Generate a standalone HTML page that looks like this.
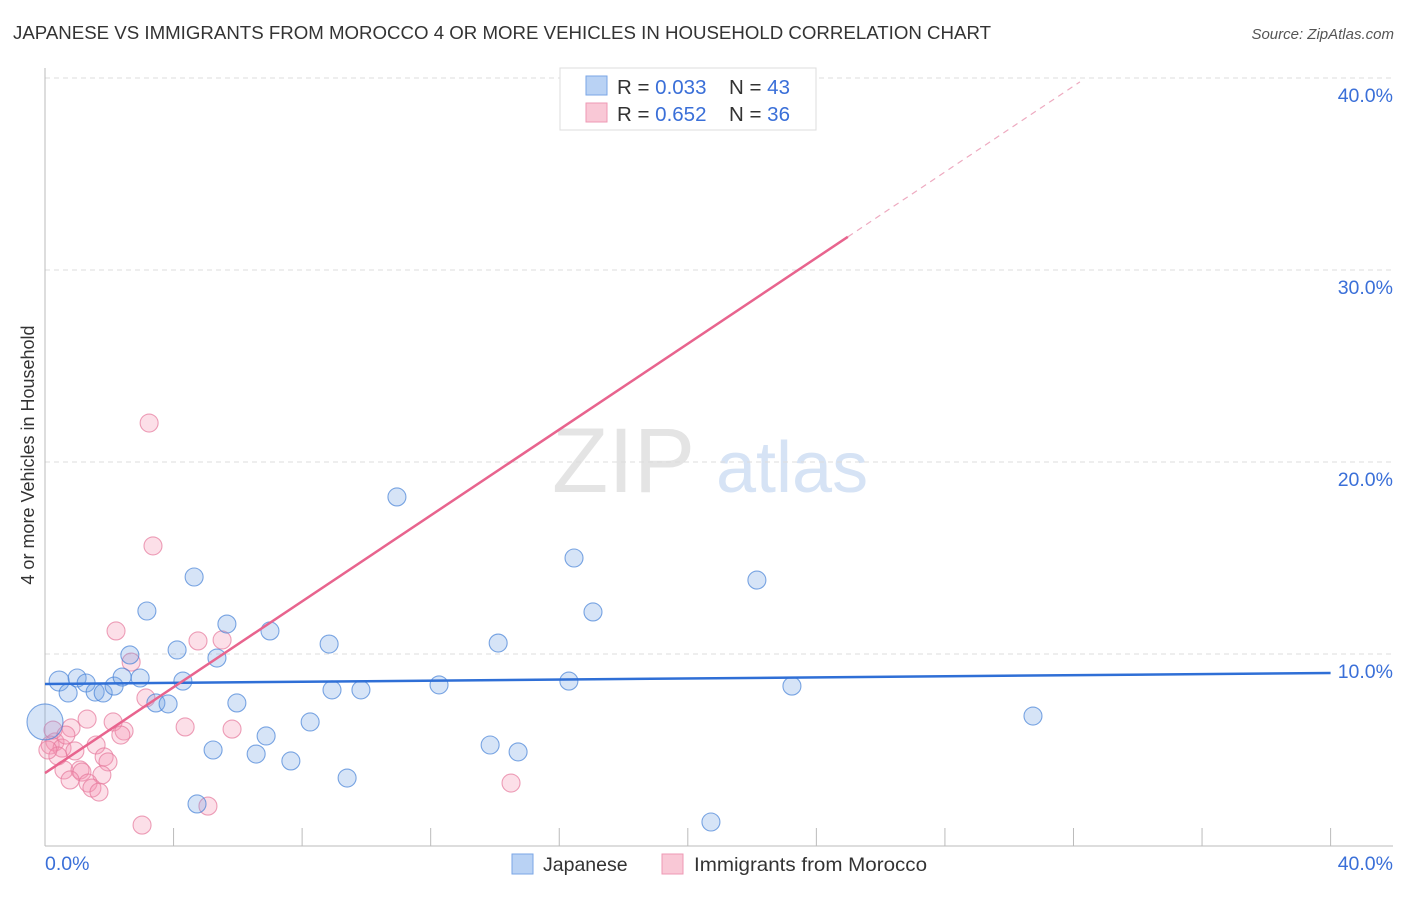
<!DOCTYPE html>
<html><head><meta charset="utf-8"><style>
body{margin:0;background:#fff;font-family:"Liberation Sans",sans-serif;}
svg text{font-family:"Liberation Sans",sans-serif;}
</style></head><body>
<svg id="chart" width="1406" height="892" viewBox="0 0 1406 892" xmlns="http://www.w3.org/2000/svg">
<text x="13" y="39" font-size="18" fill="#333" textLength="978" lengthAdjust="spacingAndGlyphs">JAPANESE VS IMMIGRANTS FROM MOROCCO 4 OR MORE VEHICLES IN HOUSEHOLD CORRELATION CHART</text>
<text x="1394" y="39" font-size="15" fill="#555" font-style="italic" text-anchor="end">Source: ZipAtlas.com</text>
<g>
<text x="552" y="492" font-size="92" fill="#e4e4e4" font-family="Liberation Serif, serif">ZIP</text>
<text x="716" y="492" font-size="72" fill="#d6e3f5">atlas</text>
</g>
<g id="grid"></g>
<g id="axes"></g>
<g id="points"></g>
<g id="lines"></g>
<text transform="translate(34,455) rotate(-90)" font-size="18" fill="#333" text-anchor="middle">4 or more Vehicles in Household</text>
<g>
<rect x="560" y="68" width="256" height="62" fill="#fff" stroke="#ddd"/>
<rect x="586" y="76" width="21" height="19" fill="#b9d2f4" stroke="#7aa6e6"/>
<text x="617" y="94" font-size="20.5" fill="#333">R = <tspan fill="#3a6fd8">0.033</tspan></text>
<text x="729" y="94" font-size="20.5" fill="#333">N = <tspan fill="#3a6fd8">43</tspan></text>
<rect x="586" y="103" width="21" height="19" fill="#f9c8d6" stroke="#ee99b4"/>
<text x="617" y="121" font-size="20.5" fill="#333">R = <tspan fill="#3a6fd8">0.652</tspan></text>
<text x="729" y="121" font-size="20.5" fill="#333">N = <tspan fill="#3a6fd8">36</tspan></text>
</g>
<g>
<rect x="512" y="854" width="21" height="20" fill="#b9d2f4" stroke="#7aa6e6"/>
<text x="543" y="871" font-size="19.5" fill="#333">Japanese</text>
<rect x="662" y="854" width="21" height="20" fill="#f9c8d6" stroke="#ee99b4"/>
<text x="694" y="871" font-size="19.5" fill="#333" textLength="233" lengthAdjust="spacingAndGlyphs">Immigrants from Morocco</text>
</g>
</svg>
<script>
const japX=[0.44,0.72,1.0,1.28,1.56,1.81,2.15,2.40,2.64,2.96,3.17,3.45,3.83,4.11,4.29,4.64,4.73,5.23,5.35,5.66,5.97,6.57,6.88,7.0,7.65,8.25,8.84,8.93,9.4,9.83,10.95,12.26,13.85,14.1,14.72,16.3,16.46,17.05,20.72,22.15,23.24,30.74,0];
const japY=[8.59,7.97,8.75,8.49,8.02,7.97,8.33,8.8,9.95,8.75,12.24,7.45,7.4,10.21,8.59,14.01,2.19,5.0,9.79,11.56,7.45,4.79,5.73,11.2,4.43,6.46,10.52,8.13,3.54,8.13,18.18,8.39,5.26,10.57,4.9,8.59,15.0,12.19,1.25,13.85,8.33,6.77,6.46];
const japR=[10,9,9,9,9,9,9,9,9,9,9,9,9,9,9,9,9,9,9,9,9,9,9,9,9,9,9,9,9,9,9,9,9,9,9,9,9,9,9,9,9,9,18];
const morX=[3.24,3.36,2.21,4.76,5.51,2.68,3.14,4.36,5.82,1.31,2.12,0.81,2.46,2.36,1.59,0.31,0.16,0.53,0.93,0.4,1.84,1.96,0.59,1.09,1.15,1.77,0.78,1.34,1.46,1.68,3.02,5.07,14.5,0.25,0.65,0.09];
const morY=[22.03,15.63,11.2,10.68,10.73,9.58,7.71,6.2,6.09,6.61,6.46,6.15,5.99,5.78,5.26,5.42,5.26,5.1,4.95,4.69,4.64,4.38,3.96,3.96,3.85,3.7,3.44,3.28,3.02,2.81,1.09,2.08,3.28,6.04,5.78,5.0];
const yTicks=[10,20,30,40];
const yTickLabels=["10.0%","20.0%","30.0%","40.0%"];
const xTicks=[0,4,8,12,16,20,24,28,32,36,40];
const japTrend=[8.44,9.01];
const morTrend=[3.8,1.118];
const morSolidEnd=24.98;
const morDashEnd=32.2;

const NS="http://www.w3.org/2000/svg";
const X=v=>45+v*32.14;
const Y=v=>846-v*19.2;
function mk(tag,attrs,parent){const e=document.createElementNS(NS,tag);for(const k in attrs)e.setAttribute(k,attrs[k]);document.getElementById(parent).appendChild(e);return e;}

yTicks.forEach((t,i)=>{
 const g=mk('line',{x1:45,x2:1393,y1:Y(t),y2:Y(t),stroke:'#ddd','stroke-dasharray':'5,4'},'grid');
 
 
 const l=mk('text',{x:1393,y:Y(t)+24,'font-size':19.5,fill:'#3a6fd8','text-anchor':'end'},'grid');
 l.textContent=yTickLabels[i];
 
 
});
const ya=mk('line',{x1:45,x2:45,y1:68,y2:846,stroke:'#bbb'},'axes');


const xa=mk('line',{x1:45,x2:1393,y1:846,y2:846,stroke:'#bbb'},'axes');


xTicks.forEach(t=>{
 const k=mk('line',{x1:X(t),x2:X(t),y1:828,y2:846,stroke:'#bbb'},'axes');
 
 
});
const x0=mk('text',{x:45,y:870,'font-size':19.5,fill:'#3a6fd8'},'axes');
x0.textContent='0.0%';


const x1=mk('text',{x:1393,y:870,'font-size':19.5,fill:'#3a6fd8','text-anchor':'end'},'axes');
x1.textContent='40.0%';



morX.forEach((v,i)=>{
 const c=mk('circle',{cx:X(v),cy:Y(morY[i]),r:9,fill:'rgba(244,150,178,0.3)',stroke:'rgba(230,120,155,0.7)','stroke-width':1.1},'points');
 
 
});
japX.forEach((v,i)=>{
 const c=mk('circle',{cx:X(v),cy:Y(japY[i]),r:japR[i],fill:'rgba(120,165,230,0.3)',stroke:'rgba(70,130,215,0.7)','stroke-width':1.1},'points');
 
 
});
const jl=mk('line',{x1:X(0),y1:Y(japTrend[0]),x2:X(40),y2:Y(japTrend[1]),stroke:'#2f6fd6','stroke-width':2.5},'lines');


const ml=mk('line',{x1:X(0),y1:Y(morTrend[0]),x2:X(morSolidEnd),y2:Y(morTrend[0]+morTrend[1]*morSolidEnd),stroke:'#e8648e','stroke-width':2.5},'lines');


const md=mk('line',{x1:X(morSolidEnd),y1:Y(morTrend[0]+morTrend[1]*morSolidEnd),x2:X(morDashEnd),y2:Y(morTrend[0]+morTrend[1]*morDashEnd),stroke:'#eeaac0','stroke-width':1.2,'stroke-dasharray':'6,5'},'lines');


</script>
</body></html>
